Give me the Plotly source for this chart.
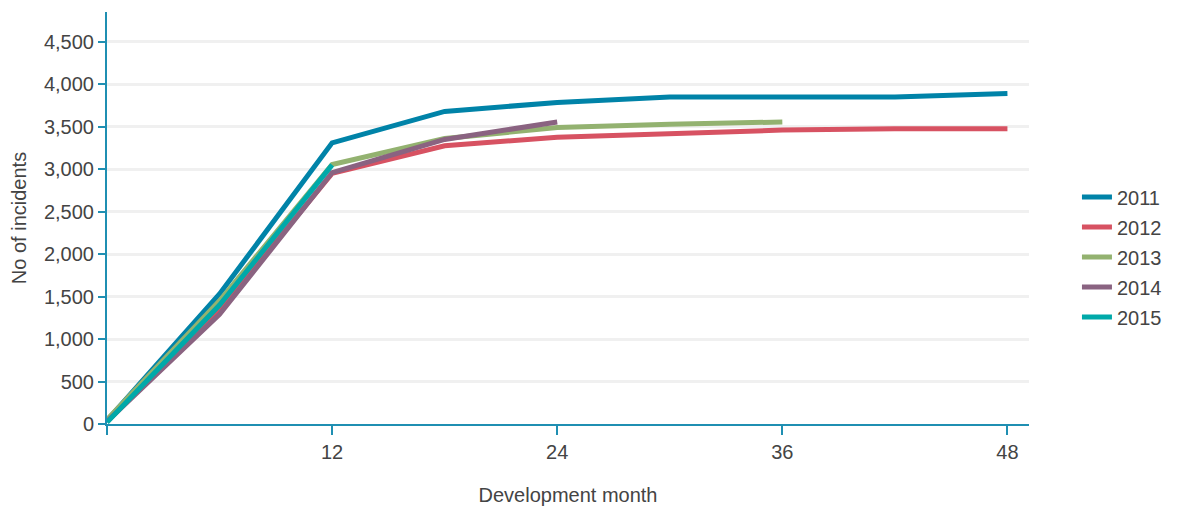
import plotly.graph_objects as go

months = [0, 6, 12, 18, 24, 30, 36, 42, 48]
years = ["2011", "2012", "2013", "2014", "2015"]
s2011 = [40, 1530, 3310, 3680, 3785, 3850, 3850, 3850, 3890]
s2012 = [30, 1340, 2950, 3275, 3375, 3420, 3460, 3475, 3475]
s2013 = [50, 1450, 3055, 3360, 3490, 3530, 3555]
s2014 = [30, 1290, 2960, 3350, 3555]
s2015 = [20, 1400, 3050]
series = [s2011, s2012, s2013, s2014, s2015]
colors = ["#0083a8", "#d75262", "#93b270", "#8a6381", "#00a9a9"]

x_ticks = [0, 12, 24, 36, 48]
x_ticktext = ["", "12", "24", "36", "48"]
y_ticks = list(range(0, 5000, 500))

fig = go.Figure()
for name, vals, col in zip(years, series, colors):
    fig.add_trace(go.Scatter(
        x=months[:len(vals)], y=vals, name=name, mode="lines",
        line=dict(color=col, width=5), legendgroup=name,
    ))

axis_col = "#1f8fb2"
font_col = "#444444"
fs = 20
fig.update_layout(
    width=1177, height=509,
    margin=dict(l=107, r=148, t=12, b=85),
    plot_bgcolor="white", paper_bgcolor="white",
    font=dict(family="Liberation Sans, Arial, sans-serif", size=fs, color=font_col),
    showlegend=True,
    legend=dict(
        xref="container", yref="container", x=0.915, y=0.495,
        xanchor="left", yanchor="middle",
        font=dict(size=fs, color=font_col), tracegroupgap=1,
        bgcolor="rgba(0,0,0,0)",
    ),
    xaxis=dict(
        range=[0, 49.15], tickvals=x_ticks, ticktext=x_ticktext,
        showline=True, linecolor=axis_col, linewidth=2,
        ticks="outside", tickcolor=axis_col, ticklen=9, tickwidth=2,
        showgrid=False, zeroline=False, automargin=False,
        tickfont=dict(size=fs),
        title=dict(text="Development month", standoff=26, font=dict(size=fs)),
    ),
    yaxis=dict(
        range=[0, 4850], tickvals=y_ticks, tickformat=",",
        showline=True, linecolor=axis_col, linewidth=2,
        ticks="outside", tickcolor=axis_col, ticklen=7, tickwidth=2,
        showgrid=True, gridcolor="#f0f0f0", gridwidth=3, zeroline=False,
        automargin=False, tickfont=dict(size=fs),
        title=dict(text="No of incidents", standoff=12, font=dict(size=fs)),
    ),
)

fig.write_html("out.html", config={"displayModeBar": False},
               post_script="document.body.style.margin='0';")
